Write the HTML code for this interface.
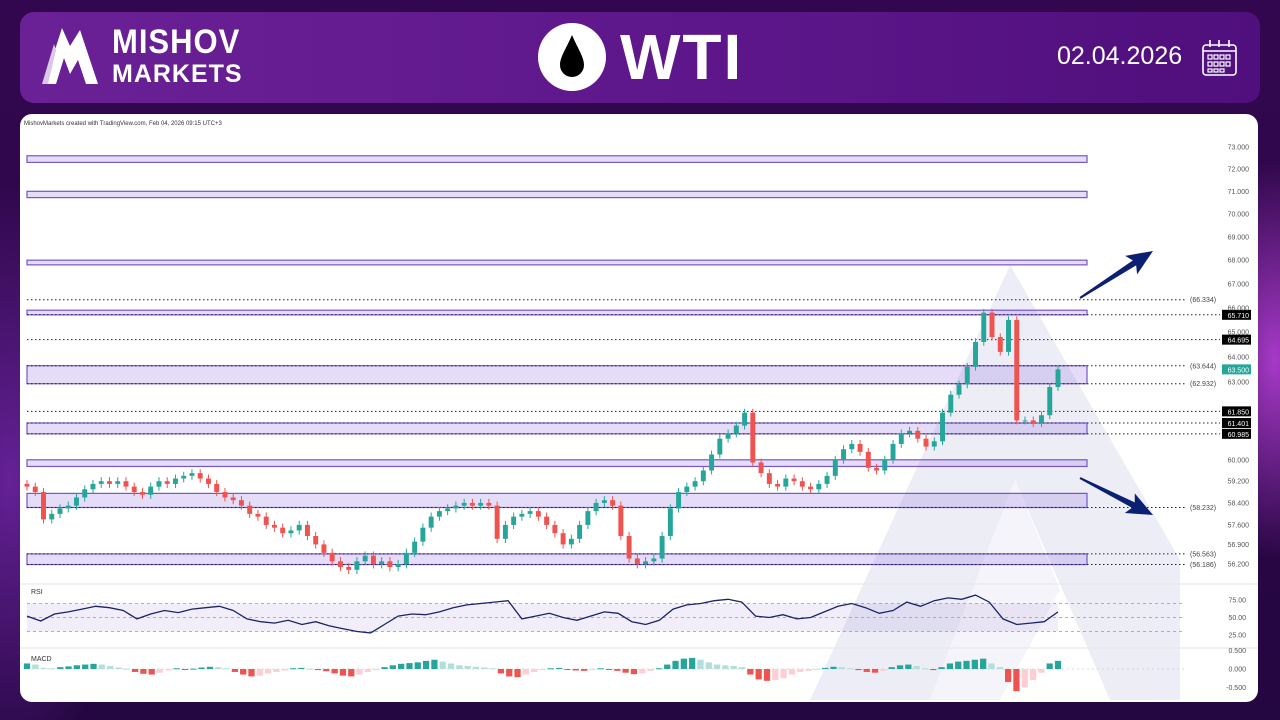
<!DOCTYPE html>
<html><head><meta charset="utf-8">
<style>
html,body{margin:0;padding:0;width:1280px;height:720px;overflow:hidden;background:#2a0846;font-family:"Liberation Sans",sans-serif}
#bg{position:absolute;inset:0;background:radial-gradient(ellipse 80px 200px at 1275px 360px,rgba(220,80,255,.7),transparent),radial-gradient(ellipse 120px 300px at 10px 480px,rgba(160,60,230,.5),transparent),linear-gradient(#33074f,#240640)}
#hdr{position:absolute;left:20px;top:12px;width:1240px;height:91px;border-radius:14px;background:linear-gradient(90deg,#6b2196,#5c1689 60%,#4f0f7c)}
.t{position:absolute;color:#fff;font-weight:bold}
#panel{position:absolute;left:20px;top:114px;width:1238px;height:588px;background:#fff;border-radius:12px;overflow:hidden}
svg text{font-family:"Liberation Sans",sans-serif}
</style></head><body>
<div id="bg"></div>
<div id="hdr">
  <svg style="position:absolute;left:20px;top:14px" width="62" height="62">
    <polygon points="4,58 22,2 30,20 40,4 58,58 46,58 38,34 30,48 24,32 16,58" fill="#fff"/>
    <polygon points="2,58 14,18 16,24 8,58" fill="#d9c8e8"/>
  </svg>
  <div class="t" style="left:92px;top:10px;font-size:31px;letter-spacing:1px;transform:scaleY(1.1);transform-origin:left top">MISHOV</div>
  <div class="t" style="left:92px;top:48px;font-size:25px;letter-spacing:1px">MARKETS</div>
  <svg style="position:absolute;left:518px;top:11px" width="70" height="70">
    <circle cx="34" cy="34" r="34" fill="#fff"/>
    <path d="M34 12 C28 26 22 34 22 42 A12 12 0 0 0 46 42 C46 34 40 26 34 12Z" fill="#000"/>
  </svg>
  <div class="t" style="left:600px;top:8px;font-size:64px;letter-spacing:2px">WTI</div>
  <div class="t" style="left:1037px;top:30px;font-size:25px;font-weight:normal">02.04.2026</div>
  <svg style="position:absolute;left:1182px;top:27px" width="36" height="38">
    <rect x="1" y="6" width="33" height="30" rx="3" fill="none" stroke="#fff" stroke-width="1.6"/>
    <line x1="1" y1="12" x2="34" y2="12" stroke="#fff" stroke-width="1.6"/>
    <g fill="none" stroke="#fff" stroke-width="1.2"><rect x="6" y="16" width="4" height="4"/><rect x="12" y="16" width="4" height="4"/><rect x="18" y="16" width="4" height="4"/><rect x="24" y="16" width="4" height="4"/><rect x="6" y="23" width="4" height="4"/><rect x="12" y="23" width="4" height="4"/><rect x="18" y="23" width="4" height="4"/><rect x="24" y="23" width="4" height="4"/><rect x="6" y="30" width="4" height="3"/><rect x="12" y="30" width="4" height="3"/><rect x="18" y="30" width="4" height="3"/></g>
    <g stroke="#fff" stroke-width="1.6"><line x1="8" y1="1" x2="8" y2="8"/><line x1="17" y1="1" x2="17" y2="8"/><line x1="27" y1="1" x2="27" y2="8"/></g>
  </svg>
</div>
<div id="panel"></div>
<svg id="chart" width="1280" height="720" style="position:absolute;left:0;top:0"></svg>
<script>
const closes=[59.0,58.8,57.8,58.0,58.2,58.3,58.6,58.9,59.1,59.2,59.1,59.2,59.0,58.8,58.7,59.0,59.2,59.1,59.3,59.4,59.5,59.3,59.1,58.8,58.6,58.5,58.3,58.0,57.9,57.6,57.5,57.3,57.4,57.6,57.2,56.9,56.6,56.3,56.1,56.0,56.3,56.5,56.2,56.3,56.1,56.2,56.6,57.0,57.5,57.9,58.1,58.2,58.3,58.4,58.3,58.4,58.3,57.1,57.6,57.9,58.0,58.1,57.9,57.6,57.3,56.9,57.1,57.6,58.1,58.4,58.5,58.3,57.2,56.4,56.2,56.3,56.4,57.2,58.2,58.8,59.0,59.2,59.6,60.2,60.8,61.0,61.3,61.8,59.9,59.5,59.1,59.0,59.3,59.2,59.0,58.9,59.1,59.4,60.0,60.4,60.6,60.3,59.7,59.6,60.0,60.6,61.0,61.1,60.8,60.5,60.7,61.8,62.5,62.9,63.6,64.6,65.8,64.8,64.2,65.5,61.5,61.5,61.4,61.7,62.8,63.5];
const rsi=[52,45,55,58,62,66,64,60,48,55,60,57,62,64,66,60,48,44,42,46,40,44,38,34,30,28,40,52,55,54,58,64,68,70,72,74,48,52,56,50,46,52,58,56,44,40,46,62,68,70,74,76,72,52,50,54,48,50,58,66,70,64,56,60,72,66,74,78,76,82,72,48,40,42,44,58];
const macd=[0.15,0.12,0.03,0.02,0.05,0.07,0.10,0.12,0.14,0.12,0.08,0.04,0.01,-0.08,-0.13,-0.15,-0.1,-0.04,0.02,-0.02,0.01,0.04,0.06,0.05,0.02,-0.08,-0.15,-0.2,-0.18,-0.12,-0.08,-0.04,0.02,0.03,0.01,-0.03,-0.06,-0.12,-0.18,-0.2,-0.15,-0.08,-0.03,0.05,0.1,0.14,0.16,0.18,0.22,0.25,0.2,0.15,0.1,0.08,0.06,0.04,0.02,-0.12,-0.2,-0.22,-0.15,-0.08,-0.03,0.02,0.03,-0.02,-0.04,-0.05,-0.03,0.02,-0.02,-0.05,-0.1,-0.14,-0.12,-0.05,0.02,0.12,0.22,0.28,0.3,0.25,0.18,0.12,0.1,0.08,0.05,-0.15,-0.28,-0.32,-0.3,-0.25,-0.15,-0.08,-0.05,-0.02,0.03,0.06,0.05,0.02,-0.03,-0.08,-0.1,-0.05,0.05,0.1,0.12,0.08,0.02,-0.03,0.05,0.15,0.2,0.22,0.25,0.28,0.15,0.05,-0.35,-0.6,-0.5,-0.3,-0.1,0.15,0.22];
const priceTicks=["73.000","72.000","71.000","70.000","69.000","68.000","67.000","66.000","65.000","64.000","63.000","60.000","59.200","58.400","57.600","56.900","56.200"];
const zones=[[72.6,72.3],[71.0,70.72],[68.0,67.8],[65.9,65.71],[63.644,62.932],[61.401,60.985],[60.0,59.75],[58.75,58.232],[56.563,56.186]];
const levels=[["66.334",0],["65.710",1],["64.695",1],["63.644",0],["62.932",0],["61.850",1],["61.401",1],["60.985",1],["58.232",0],["56.563",0],["56.186",0]];
const rsiTicks=["75.00","50.00","25.00"];
const macdTicks=["0.500","0.000","-0.500"];

const NS="http://www.w3.org/2000/svg";
const svg=document.getElementById('chart');
function mk(tag,attrs,parent){const e=document.createElementNS(NS,tag);for(const k in attrs)e.setAttribute(k,attrs[k]);(parent||svg).appendChild(e);return e;}
const X0=27,X1=1058;
const yP=p=>147+1595*Math.log(73/p);
const yR=v=>617.5-(v-50)*0.7;
const yM=v=>669-v*37;
const xAt=(i,n)=>X0+i*(X1-X0)/(n-1);

// watermark
const wm=mk('g',{opacity:0.32});


mk('polygon',{points:"810,700 1010,265 1180,560 1180,700 1110,700 1015,480 930,700",fill:"#c8c8e6"},wm);
mk('polygon',{points:"930,700 1015,480 1060,590 1000,700",fill:"#e0e0f2"},wm);

const cap=mk('text',{x:24,y:125,'font-size':6,fill:'#333'});
cap.textContent="MishovMarkets created with TradingView.com, Feb 04, 2026 09:15 UTC+3";



zones.forEach((z,i)=>{
  const r=mk('rect',{x:27,y:yP(z[0]),width:1060,height:Math.max(3,yP(z[1])-yP(z[0])),fill:'rgba(150,120,225,0.25)',stroke:'#7656c8','stroke-width':1.2});
  
  
});
levels.forEach(l=>{
  const v=parseFloat(l[0]),y=yP(v);
  const ln=mk('line',{x1:27,x2:l[1]?1220:1185,y1:y,y2:y,stroke:'#222','stroke-width':1,'stroke-dasharray':'1.5,2.5'});
  
  
  if(l[1]){
    const b=mk('rect',{x:1222,y:y-5,width:29,height:10,fill:'#000'});
    
    
    const t=mk('text',{x:1249,y:y+3,'font-size':7,fill:'#fff','text-anchor':'end'});t.textContent=l[0];
    
    
  }else{
    const t=mk('text',{x:1190,y:y+2.5,'font-size':7,fill:'#444'});t.textContent='('+l[0]+')';
    
    
  }
});
priceTicks.forEach(s=>{
  const t=mk('text',{x:1249,y:yP(parseFloat(s))+2.5,'font-size':7,fill:'#555','text-anchor':'end'});t.textContent=s;
  
  
});
const lp=closes[closes.length-1];
const lb=mk('rect',{x:1222,y:yP(lp)-5,width:29,height:10,fill:'#26a69a'});


const lt=mk('text',{x:1249,y:yP(lp)+3,'font-size':7,fill:'#fff','text-anchor':'end'});lt.textContent=lp.toFixed(3);



const n=closes.length,cw=Math.max(2,(X1-X0)/(n-1)*0.6);
for(let i=0;i<n;i++){
  const o=i?closes[i-1]:closes[0]+0.1,c=closes[i];
  const hi=Math.max(o,c)+0.15,lo=Math.min(o,c)-0.15;
  const col=c>=o?'#26a69a':'#ef5350';const x=xAt(i,n);
  const g=mk('g',{});
  
  
  mk('line',{x1:x,x2:x,y1:yP(hi),y2:yP(lo),stroke:col,'stroke-width':1},g);
  const top=yP(Math.max(o,c)),bot=yP(Math.min(o,c));
  mk('rect',{x:x-cw/2,y:top,width:cw,height:Math.max(1,bot-top),fill:col},g);
}

function arrow(x1,y1,x2,y2,name){
  const a=Math.atan2(y2-y1,x2-x1),L=Math.hypot(x2-x1,y2-y1);
  const g=mk('g',{transform:`translate(${x1},${y1}) rotate(${a*180/Math.PI})`,fill:'#0b2070'});
  
  
  mk('polygon',{points:`0,-1 ${L-22},-3 ${L-26},-11 ${L},0 ${L-26},11 ${L-22},3 0,1`},g);
}
arrow(1080,298,1153,251,'bullish-arrow');
arrow(1080,478,1153,515,'bearish-arrow');

[584,648].forEach(y=>{const s=mk('line',{x1:20,x2:1258,y1:y,y2:y,stroke:'#e6e6e6'});
  });

const rl=mk('text',{x:31,y:594,'font-size':7,fill:'#333'});rl.textContent='RSI';

const rb=mk('rect',{x:27,y:yR(70),width:1031,height:yR(30)-yR(70),fill:'rgba(126,87,194,0.1)'});

[70,50,30].forEach(v=>{const d=mk('line',{x1:27,x2:1185,y1:yR(v),y2:yR(v),stroke:'#999','stroke-dasharray':'3,3','stroke-width':0.8});
  });
rsiTicks.forEach(s=>{const t=mk('text',{x:1246,y:yR(parseFloat(s))+2.5,'font-size':7,fill:'#555','text-anchor':'end'});t.textContent=s;
  });
const rp=mk('polyline',{points:rsi.map((v,i)=>xAt(i,rsi.length)+','+yR(v)).join(' '),fill:'none',stroke:'#1a2466','stroke-width':1.3});


const ml=mk('text',{x:31,y:661,'font-size':7,fill:'#333'});ml.textContent='MACD';

macdTicks.forEach(s=>{const t=mk('text',{x:1246,y:yM(parseFloat(s))+2.5,'font-size':7,fill:'#555','text-anchor':'end'});t.textContent=s;
  });
const zl=mk('line',{x1:27,x2:1185,y1:yM(0),y2:yM(0),stroke:'#ccc','stroke-dasharray':'2,3','stroke-width':0.7});

const mn=macd.length,bw=Math.max(2,(X1-X0)/(mn-1)*0.75);
macd.forEach((v,i)=>{
  const prev=i?macd[i-1]:0;
  const col=v>=0?(v>=prev?'#26a69a':'#b2dfdb'):(v<=prev?'#ef5350':'#ffcdd2');
  const y0=yM(0),y1=yM(v);
  const b=mk('rect',{x:xAt(i,mn)-bw/2,y:Math.min(y0,y1),width:bw,height:Math.max(1,Math.abs(y1-y0)),fill:col});
  
  
});
</script>
</body></html>
